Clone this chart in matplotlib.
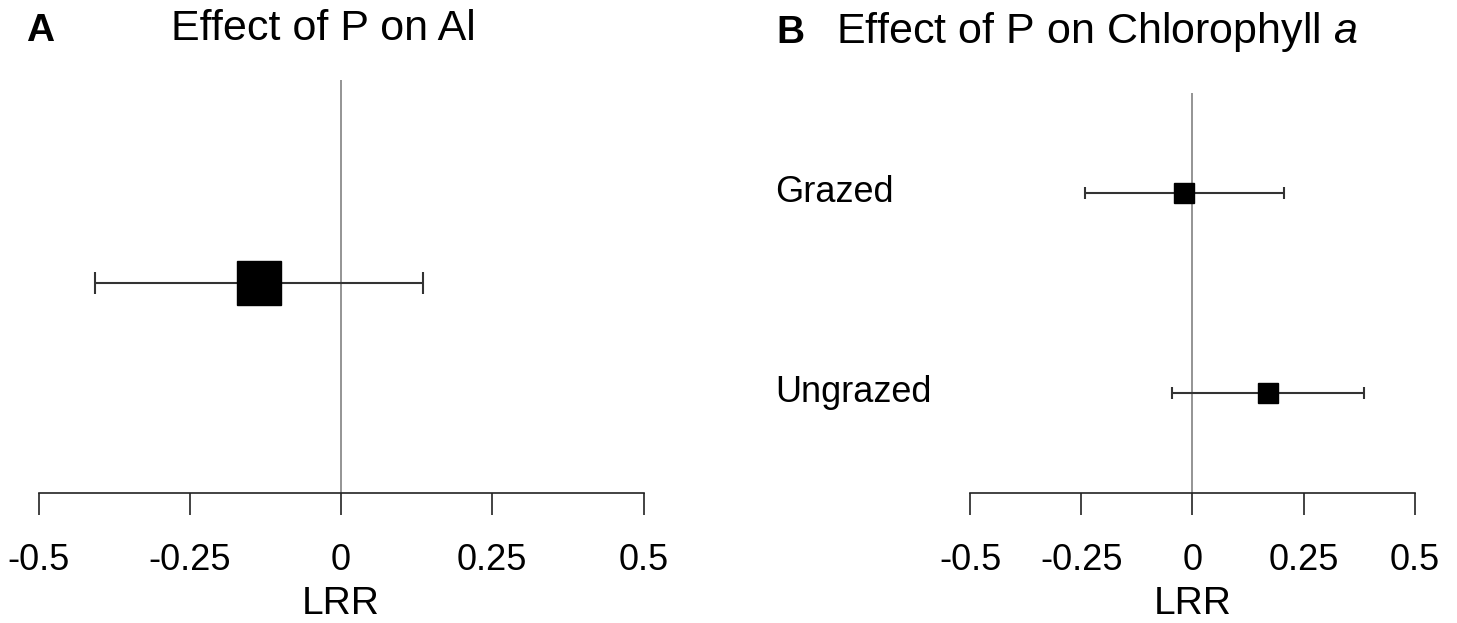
import matplotlib
matplotlib.use("Agg")
import matplotlib.pyplot as plt
import matplotlib.transforms as mtransforms

plt.rcParams["font.family"] = ["Liberation Sans", "DejaVu Sans"]
plt.rcParams["mathtext.fontset"] = "custom"
plt.rcParams["mathtext.it"] = "Liberation Sans:italic"
plt.rcParams["mathtext.rm"] = "Liberation Sans"

# Panel A: effect of P on Al
a_labels = [""]
a_mean = [-0.136]
a_lo = [-0.406]
a_hi = [0.136]

# Panel B: effect of P on chlorophyll a
b_labels = ["Ungrazed", "Grazed"]
b_mean = [0.170, -0.018]
b_lo = [-0.046, -0.242]
b_hi = [0.385, 0.206]

xticks = [-0.5, -0.25, 0, 0.25, 0.5]
xticklabels = ["-0.5", "-0.25", "0", "0.25", "0.5"]

W, H = 1457, 623
fig = plt.figure(figsize=(W / 100, H / 100), dpi=100)

ax_a = fig.add_axes([38.5 / W, 130 / H, 605 / W, 413 / H])
ax_b = fig.add_axes([970 / W, 130 / H, 444.7 / W, 400 / H])


def style_axis(ax):
    for s in ["left", "top", "right"]:
        ax.spines[s].set_visible(False)
    ax.spines["bottom"].set_linewidth(1.2)
    ax.spines["bottom"].set_color("#222222")
    ax.set_xlim(-0.5, 0.5)
    ax.set_xticks(xticks, xticklabels)
    ax.set_yticks([])
    ax.tick_params(axis="x", direction="out", length=16, width=1.2,
                   color="#222222", pad=20, labelsize=26)
    ax.set_xlabel("LRR", fontsize=28, labelpad=6)
    ax.axvline(0, color="#777777", lw=1.1, zorder=1)
    ax.set_facecolor("none")


def draw_rows(ax, mean, lo, hi, ms, capsize):
    ys = list(range(len(mean)))
    xerr = [[m - l for m, l in zip(mean, lo)], [h - m for m, h in zip(mean, hi)]]
    ax.errorbar(mean, ys, xerr=xerr, fmt="s", ms=ms, mfc="black", mec="black",
                ecolor="#333333", elinewidth=1.5, capsize=capsize,
                capthick=1.5, zorder=3, clip_on=False)


style_axis(ax_a)
draw_rows(ax_a, a_mean, a_lo, a_hi, ms=31, capsize=8)
ax_a.set_ylim(-1.03, 1)

style_axis(ax_b)
draw_rows(ax_b, b_mean, b_lo, b_hi, ms=15, capsize=4)
ax_b.set_ylim(-0.5, 1.5)

# row labels in panel B
trans = mtransforms.blended_transform_factory(fig.transFigure, ax_b.transData)
for i, lab in enumerate(b_labels):
    ax_b.text(775 / W, i, lab, transform=trans, ha="left", va="center",
              fontsize=26, clip_on=False)

# titles and panel letters
fig.text(323 / W, 1 - 29 / H, "Effect of P on Al", ha="center", va="center",
         fontsize=31)
fig.text(40 / W, 1 - 31 / H, "A", ha="center", va="center", fontsize=28,
         fontweight="bold")
fig.text(836 / W, 1 - 32 / H, r"Effect of P on Chlorophyll $\it{a}$",
         ha="left", va="center", fontsize=31)
fig.text(790 / W, 1 - 33 / H, "B", ha="center", va="center", fontsize=28,
         fontweight="bold")

fig.savefig("out.png", dpi=100, facecolor="white")
